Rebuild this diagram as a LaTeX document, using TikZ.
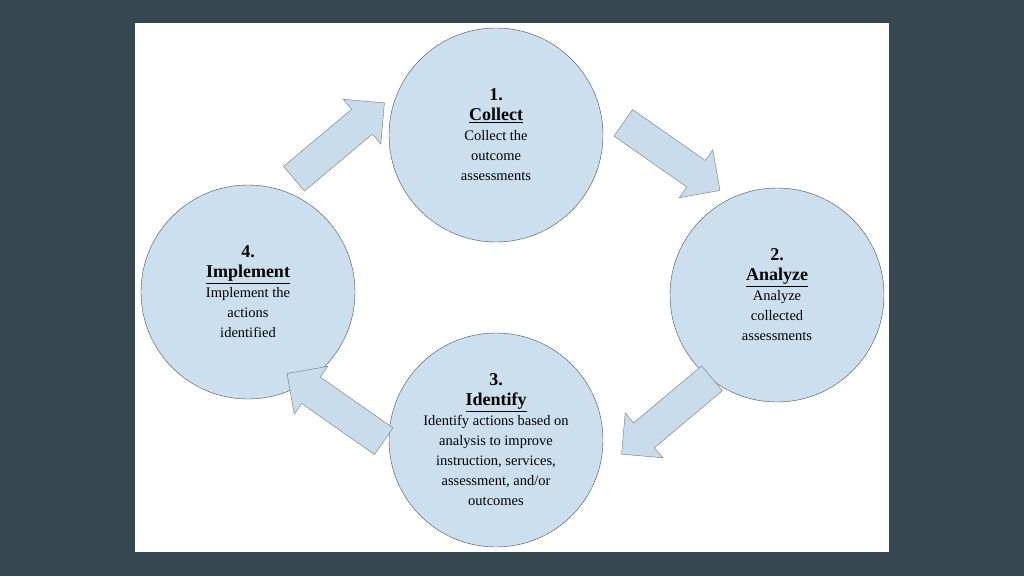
\documentclass[tikz,border=0pt]{standalone}
\usepackage{fontspec}
\setmainfont{Liberation Serif}
\usetikzlibrary{shapes.arrows}
\definecolor{slate}{HTML}{37474F}
\definecolor{cycfill}{HTML}{CCDFEE}
\definecolor{arrfill}{HTML}{C8DCEC}
\tikzset{
  stage/.style={circle, draw=black!70, fill=cycfill, minimum size=214pt, inner sep=0pt,
    align=center, font=\fontsize{14.5}{20}\selectfont},
  flow/.style={single arrow, draw=black!55, fill=arrfill, minimum height=118pt,
    inner xsep=0pt, inner ysep=16pt, single arrow head extend=13pt},
}
\newcommand{\stagehead}[2]{{\fontsize{18}{23}\selectfont\textbf{#1}}\\
  {\fontsize{18}{23}\selectfont\textbf{\underline{#2}}}\\}
\begin{document}
\begin{tikzpicture}[x=1pt,y=-1pt]
\fill[slate] (0,0) rectangle (1024,576);
\fill[white] (135,23) rectangle (889,552);

% stages
\node[stage] (collect) at (496,135) {\stagehead{1.}{Collect}Collect the\\outcome\\assessments};
\node[stage] (analyze) at (777,295) {\stagehead{2.}{Analyze}Analyze\\collected\\assessments};
\node[stage] (identify) at (496,440) {\stagehead{3.}{Identify}Identify actions based on\\analysis to improve\\instruction, services,\\assessment, and/or\\outcomes};
\node[stage] (implement) at (248,292) {\stagehead{4.}{Implement}Implement the\\actions\\identified};

% arrows
\node[flow, rotate=40] (a1) at (333,146) {};
\node[flow, rotate=-35] (a2) at (665,152) {};
\node[flow, rotate=-140] (a3) at (673,411) {};
\node[flow, rotate=145] (a4) at (342,412) {};
\end{tikzpicture}
\end{document}
